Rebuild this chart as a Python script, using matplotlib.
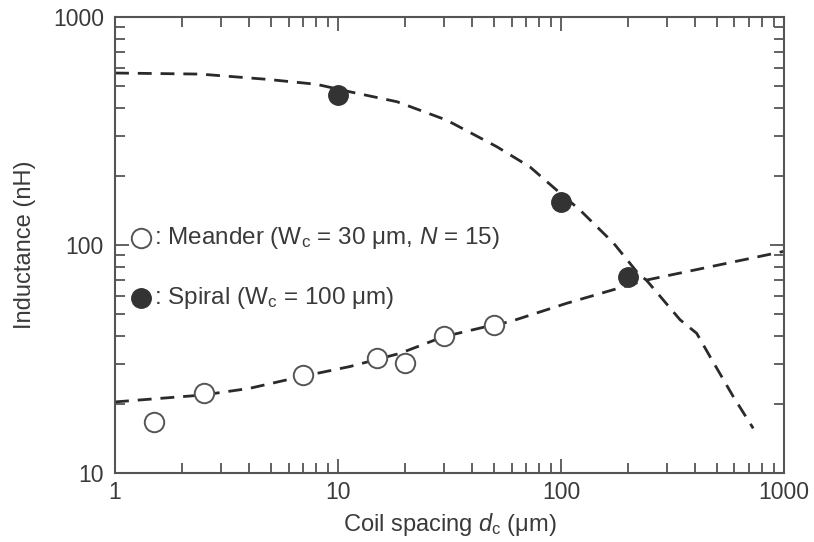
import matplotlib.pyplot as plt
from matplotlib.ticker import FixedLocator, FixedFormatter, LogLocator, NullFormatter

plt.rcParams['font.family'] = ['Liberation Sans', 'DejaVu Sans']
plt.rcParams['mathtext.fontset'] = 'custom'
plt.rcParams['mathtext.rm'] = 'Liberation Sans'
plt.rcParams['mathtext.it'] = 'Liberation Sans:italic'

# measured points
meander_x = [1.5, 2.5, 7, 15, 20, 30, 50]
meander_y = [16.8, 22.5, 27.0, 32.0, 30.5, 40.0, 44.8]
spiral_x = [10, 100, 200]
spiral_y = [455, 155, 72.5]

# dashed guide curves
meander_fit_x = [1, 2.5, 4, 6.75, 11.3, 19, 29.7, 49.7, 59, 106, 242, 1000]
meander_fit_y = [20.5, 22.0, 23.5, 26.4, 29.3, 33.5, 39.6, 44.6, 46.1, 55.5, 70.2, 93.8]
spiral_fit_x = [1, 2.4, 4.8, 8, 11.3, 18.4, 30.7, 51.5, 72.6, 95.7, 122, 172, 222, 242, 342, 406, 466, 593, 728]
spiral_fit_y = [568, 562, 533, 507, 470, 425, 353, 270, 220, 174, 142, 102, 75, 70, 47, 41, 32.4, 21.6, 15.7]

x_ticks = [1, 10, 100, 1000]
y_ticks = [10, 100, 1000]

fig = plt.figure(figsize=(8.14, 5.42), dpi=100)
ax = fig.add_axes([0.1413, 0.1273, 0.8218, 0.8413])

ink = '#3a3a3a'
ax.plot(meander_fit_x, meander_fit_y, ls=(0, (5, 3.2)), color='#2a2a2a', lw=2.0, zorder=2)
ax.plot(spiral_fit_x, spiral_fit_y, ls=(0, (5, 3.2)), color='#2a2a2a', lw=2.0, zorder=2)
ax.plot(meander_x, meander_y, 'o', ms=14, mfc='white', mec='#555555', mew=1.4, zorder=3)
ax.plot(spiral_x, spiral_y, 'o', ms=14, mfc='#333333', mec='#333333', zorder=3)

ax.set_xscale('log')
ax.set_yscale('log')
ax.set_xlim(1, 1000)
ax.set_ylim(10, 1000)

ax.xaxis.set_major_locator(FixedLocator(x_ticks))
ax.xaxis.set_major_formatter(FixedFormatter([str(v) for v in x_ticks]))
ax.yaxis.set_major_locator(FixedLocator(y_ticks))
ax.yaxis.set_major_formatter(FixedFormatter([str(v) for v in y_ticks]))
ax.xaxis.set_minor_locator(LogLocator(base=10, subs=range(2, 10)))
ax.yaxis.set_minor_locator(LogLocator(base=10, subs=range(2, 10)))
ax.xaxis.set_minor_formatter(NullFormatter())
ax.yaxis.set_minor_formatter(NullFormatter())

ax.tick_params(which='both', direction='in', top=True, right=True, color='#555555',
               labelsize=16.5, labelcolor=ink, width=1.3)
ax.tick_params(which='major', length=10)
ax.tick_params(which='minor', length=7)
ax.tick_params(axis='x', which='major', pad=6)
ax.tick_params(axis='y', which='major', pad=8)
for s in ax.spines.values():
    s.set_color('#555555')
    s.set_linewidth(1.5)

ax.set_xlabel('Coil spacing $d_\\mathrm{c}$ (\u03bcm)', fontsize=17, color=ink, labelpad=5)
ax.set_ylabel('Inductance (nH)', fontsize=17, color=ink, labelpad=12)

# in-plot key
ax.plot([0.039], [0.515], 'o', ms=14, mfc='white', mec='#555555', mew=1.4, transform=ax.transAxes)
ax.plot([0.039], [0.384], 'o', ms=14, mfc='#333333', mec='#333333', transform=ax.transAxes)
ax.text(0.058, 0.515, ': Meander (W$_\\mathrm{c}$ = 30 \u03bcm, $N$ = 15)', transform=ax.transAxes,
        fontsize=17.5, color=ink, va='center')
ax.text(0.058, 0.384, ': Spiral (W$_\\mathrm{c}$ = 100 \u03bcm)', transform=ax.transAxes,
        fontsize=17.5, color=ink, va='center')

fig.savefig('out.png', dpi=100)
